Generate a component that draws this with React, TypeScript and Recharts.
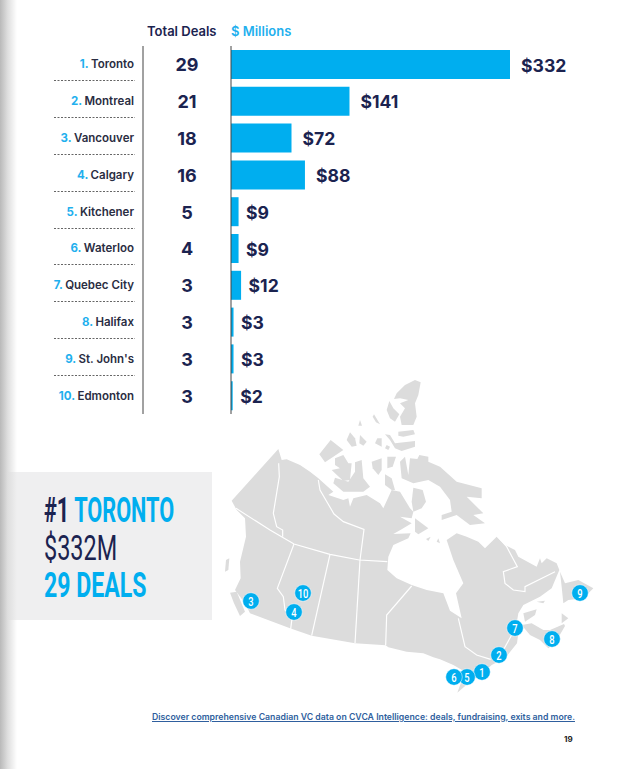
import { BarChart, Bar, XAxis, YAxis, LabelList, ScatterChart, Scatter } from "recharts";

const cities = ["Toronto", "Montreal", "Vancouver", "Calgary", "Kitchener", "Waterloo", "Quebec City", "Halifax", "St. John's", "Edmonton"];
const deals = [29, 21, 18, 16, 5, 4, 3, 3, 3, 3];
const millions = [332, 141, 72, 88, 9, 9, 12, 3, 3, 2];

// pin spots on the map, in px from the map's corner, by rank
const pinX = [262, 279, 31, 74, 247, 234, 295, 332, 360, 83];
const pinY = [302, 285, 231, 242, 307, 307, 258, 269, 223, 223];

const BLUE = "#00aeef";
const NAVY = "#1b2350";
const SANS = "Inter, sans-serif";
const CONDENSED = "Roboto, sans-serif";

const rows = cities.map((city, i) => ({ city, deals: deals[i], millions: millions[i] }));
const pins = pinX.map((x, i) => ({ x, y: pinY[i], rank: i + 1 }));

// traced outline of the country, viewBox is 3x the map's px size
const land = [
  "M175 237 L35 392 L50 420 L75 445 L78 500 L60 575 L62 625 L45 660 L75 700 L90 730 L210 775 L275 797 L405 820 L497 826 L505 832 L560 845 L610 850 L640 862 L660 868 L700 885 L735 905 L712 968 L745 940 L790 908 L815 885 L855 865 L891 820 L895 790 L890 760 L895 730 L910 705 L960 680 L995 655 L1018 600 L1010 580 L980 565 L965 580 L960 565 L950 590 L895 560 L885 540 L855 525 L830 500 L795 535 L775 515 L740 500 L710 490 L680 510 L700 570 L730 640 L708 670 L725 745 L690 722 L670 670 L620 660 L575 645 L530 625 L502 600 L505 560 L520 525 L565 505 L572 490 L520 492 L545 478 L575 460 L540 440 L575 445 L580 425 L570 415 L540 365 L515 360 L490 415 L480 400 L440 375 L400 385 L390 410 L385 385 L370 390 L325 375 L340 365 L295 325 L270 305 L240 285 L200 268 L185 270 Z",
  "M30 668 L50 665 L75 725 L60 738 L42 700 Z",
  "M18 570 L28 565 L25 600 L15 605 Z",
];

const arctic = [
  "M345 15 L362 22 L355 60 L345 85 L350 125 L340 150 L305 150 L300 125 L315 100 L300 85 L325 75 L300 70 L282 72 L290 55 L315 30 Z",
  "M268 78 L280 100 L298 118 L285 140 L270 130 L260 105 Z",
  "M222 118 L240 148 L228 142 L218 125 Z",
  "M180 135 L186 152 L175 152 Z",
  "M295 170 L340 165 L345 178 L310 185 L295 182 Z",
  "M255 178 L270 180 L285 205 L345 198 L345 215 L305 228 L285 220 L270 195 Z",
  "M260 210 L270 215 L265 225 L255 220 Z",
  "M232 190 L245 190 L245 215 L225 205 Z",
  "M180 180 L200 200 L190 212 L178 205 Z",
  "M150 172 L165 190 L170 212 L155 215 L140 195 Z",
  "M92 195 L130 225 L100 245 L75 262 L58 238 Z",
  "M105 250 L130 240 L145 265 L155 265 L150 315 L130 318 L105 295 L95 285 L120 280 L105 270 Z",
  "M185 255 L190 310 L210 335 L190 350 L130 350 L100 325 L105 308 L145 320 L165 290 L165 262 Z",
  "M215 260 L245 250 L245 285 L235 300 L218 280 Z",
  "M262 245 L288 245 L278 275 L262 280 Z",
  "M255 298 L275 310 L285 345 L275 345 L255 330 Z",
  "M358 240 L385 245 L385 260 L420 275 L470 320 L545 340 L545 370 L500 365 L550 415 L520 420 L555 445 L510 450 L470 420 L425 435 L425 420 L455 410 L450 375 L420 335 L385 315 L340 325 L305 310 L300 260 L315 245 L325 300 L330 250 L352 252 Z",
  "M340 338 L368 345 L378 380 L365 400 L340 410 L335 380 Z",
  "M345 430 L385 460 L355 478 L345 470 Z",
  "M378 492 L392 485 L385 498 Z",
  "M415 490 L420 505 L410 500 Z",
];

const atlantic = [
  "M360 155 L375 190 L415 180 L460 205 L430 235 L385 240 L370 250 L365 200 Z",
  "M245 315 L275 310 L310 330 L330 330 L372 312 L375 318 L345 370 L325 385 L300 360 L270 345 Z",
  "M250 280 L290 268 L285 285 L255 305 Z",
  "M365 280 L385 295 L365 310 Z",
  "M290 245 L315 242 L310 250 Z",
];

const borders = [
  "M48 415 L150 480 L222 522 L330 553 L418 570 L502 575",
  "M176 280 L178 320 L160 430 L170 470 L188 480 L188 500",
  "M295 330 L300 360 L342 432 L370 455 L432 478 L420 570",
  "M222 522 L172 655 L190 680 L195 720 L216 745 L212 777",
  "M330 553 L275 797",
  "M420 570 L405 820",
  "M575 648 L500 735 L497 826",
  "M715 745 L735 830 L770 855 L812 868",
  "M830 497 L860 530 L892 590 L850 605 L855 640 L880 660 L915 665 L915 650 L1005 605",
  "M875 795 L850 840 L820 855",
];

function CityTick({ y, index, payload }: any) {
  const rank = index + 1;
  return (
    <g>
      <text x={134} y={y + 4} textAnchor="end" fontFamily={SANS} fontSize={11.5} fontWeight={600} fill="#2a2d42">
        <tspan fill="#1fb0ee" fontWeight={700}>{rank}. </tspan>
        {payload.value}
      </text>
      {rank < cities.length && (
        <line x1={54} x2={135} y1={Math.round(y + 16) + 0.5} y2={Math.round(y + 16) + 0.5} stroke="#666" strokeWidth={1} strokeDasharray="2 1.5" />
      )}
    </g>
  );
}

function DealsTick({ y, index }: any) {
  return (
    <text x={187} y={y + 7} textAnchor="middle" fontFamily={SANS} fontSize={18} fontWeight={700} fill={NAVY}>
      {deals[index]}
    </text>
  );
}

// small bars keep their labels a bit closer
function ValueLabel({ x, y, width, height, value }: any) {
  const gap = value < 50 ? 7.5 : 11;
  return (
    <text x={x + width + gap} y={y + height / 2 + 7} fontFamily={SANS} fontSize={17.6} fontWeight={700} fill={NAVY}>
      {`$${value}`}
    </text>
  );
}

function Pin({ cx, cy, payload }: any) {
  return (
    <g>
      <circle cx={cx} cy={cy} r={8.3} fill={BLUE} stroke="#fff" strokeWidth={0.5} />
      <text
        transform={`translate(${cx} ${cy + 4.5}) scale(0.72 1)`}
        textAnchor="middle"
        fontFamily={CONDENSED}
        fontSize={13}
        fontWeight={500}
        fill="#fff"
      >
        {payload.rank}
      </text>
    </g>
  );
}

const calloutLine = (squeeze: number) =>
  ({ display: "block", transform: `scaleX(${squeeze})`, transformOrigin: "left", whiteSpace: "nowrap" }) as const;

export default function App() {
  return (
    <div style={{ position: "absolute", left: 0, top: 0, width: 627, height: 769, overflow: "hidden", background: "#fff" }}>
      <div style={{ position: "absolute", left: 0, top: 472, width: 212, height: 148, background: "#efeff0" }} />
      <div
        style={{
          position: "absolute",
          left: 0,
          top: 0,
          width: 17,
          height: 769,
          background: "linear-gradient(to right, #b9b9b9, #dedede 45%, rgba(255,255,255,0))",
        }}
      />

      <div style={{ position: "absolute", left: 147, top: 23, fontFamily: SANS, fontSize: 13, fontWeight: 600, color: NAVY, whiteSpace: "nowrap" }}>
        Total Deals
      </div>
      <div style={{ position: "absolute", left: 231, top: 23, fontFamily: SANS, fontSize: 13, fontWeight: 600, color: "#1fb0ee", whiteSpace: "nowrap" }}>
        $ Millions
      </div>

      <div style={{ position: "absolute", left: 0, top: 0 }}>
        <BarChart
          width={627}
          height={460}
          data={rows}
          layout="vertical"
          margin={{ top: 46, right: 117, bottom: 46, left: 0 }}
          barCategoryGap={0}
        >
          <XAxis type="number" hide domain={[0, 332]} />
          <YAxis
            yAxisId="outer"
            type="category"
            dataKey="city"
            width={143}
            interval={0}
            axisLine={{ stroke: "#444" }}
            tickLine={false}
            tick={<CityTick />}
          />
          <YAxis
            yAxisId="inner"
            type="category"
            dataKey="city"
            width={88}
            interval={0}
            axisLine={{ stroke: "#444" }}
            tickLine={false}
            tick={<DealsTick />}
          />
          <Bar yAxisId="inner" dataKey="millions" fill={BLUE} barSize={29} isAnimationActive={false}>
            <LabelList dataKey="millions" content={<ValueLabel />} />
          </Bar>
        </BarChart>
      </div>

      {/* map, sits under the pins */}
      <svg style={{ position: "absolute", left: 220, top: 370 }} width={400} height={330} viewBox="0 0 1200 990">
        {land.map((d, i) => (
          <path key={i} d={d} fill="#dcdcdc" />
        ))}
        <g transform="translate(240 15)">
          {arctic.map((d, i) => (
            <path key={i} d={d} fill="#dcdcdc" />
          ))}
        </g>
        <g transform="translate(660 450)">
          {atlantic.map((d, i) => (
            <path key={i} d={d} fill="#dcdcdc" />
          ))}
        </g>
        {borders.map((d, i) => (
          <path key={i} d={d} fill="none" stroke="#fff" strokeWidth={3.5} />
        ))}
      </svg>
      <div style={{ position: "absolute", left: 220, top: 370 }}>
        <ScatterChart width={400} height={330} margin={{ top: 0, right: 0, bottom: 0, left: 0 }}>
          <XAxis type="number" dataKey="x" hide domain={[0, 400]} />
          <YAxis type="number" dataKey="y" hide domain={[0, 330]} reversed />
          <Scatter data={pins} shape={<Pin />} isAnimationActive={false} />
        </ScatterChart>
      </div>

      <div style={{ position: "absolute", left: 44, top: 492, fontFamily: CONDENSED, fontSize: 35, lineHeight: "37.5px", fontWeight: 700, color: NAVY }}>
        <span style={calloutLine(0.62)}>
          #1 <span style={{ color: BLUE }}>TORONTO</span>
        </span>
        <span style={{ ...calloutLine(0.67), fontWeight: 400 }}>$332M</span>
        <span style={{ ...calloutLine(0.66), color: BLUE }}>29 DEALS</span>
      </div>

      <div style={{ position: "absolute", left: 152, top: 712, fontFamily: SANS, fontSize: 8.73, fontWeight: 600, color: "#2f5f9e", textDecoration: "underline", whiteSpace: "nowrap" }}>
        Discover comprehensive Canadian VC data on CVCA Intelligence: deals, fundraising, exits and more.
      </div>
      <div style={{ position: "absolute", left: 564, top: 734, fontFamily: SANS, fontSize: 8, fontWeight: 700, color: "#222" }}>19</div>
    </div>
  );
}
